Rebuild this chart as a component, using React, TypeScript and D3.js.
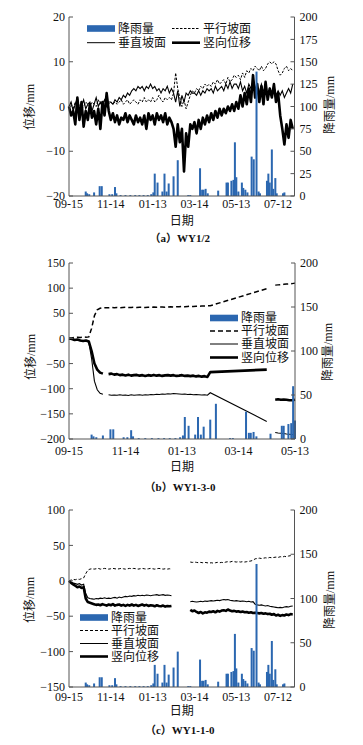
import React from "react";
import * as d3 from "d3";

const W = 363;
const H = 745;
const SERIF = "'Liberation Serif','Times New Roman','Noto Sans CJK SC',serif";
const RAIN_COLOR = "#2b67b0";
const AXIS_COLOR = "#555";

// x tick labels (one every 60 days from 09-15)
const xTickDays = [0, 60, 120, 180, 240, 300];
const xLabelsLong = ["09-15", "11-14", "01-13", "03-14", "05-13", "07-12"];
const xLabelsShort = ["09-15", "11-14", "01-13", "03-14", "05-13"];

// rainfall, shared by the three panels (day after 09-15, mm)
const rainDays = [24, 26, 29, 36, 44, 47, 58, 62, 66, 68, 74, 81, 88, 95, 101, 107, 113, 118, 121, 123, 127, 134, 137, 140, 143, 150, 156, 171, 174, 188, 191, 193, 196, 199, 214, 226, 228, 233, 236, 238, 240, 243, 248, 250, 253, 256, 262, 265, 269, 272, 274, 284, 286, 288, 291, 293, 296, 298, 307, 309];
const rainValues = [5, 3, 2, 4, 11, 11, 2, 2, 10, 3, 1, 1, 1, 1, 1, 1, 1, 2, 4, 25, 15, 5, 25, 5, 14, 22, 40, 1, 1, 31, 7, 7, 8, 3, 6, 15, 15, 17, 18, 60, 21, 5, 15, 9, 7, 4, 44, 41, 139, 5, 3, 17, 25, 15, 52, 8, 20, 3, 3, 4];

// (a) WY1/2, every 3 days
const daysA = d3.range(0, 322, 3);
const parallelA = [
  0, 0.5, -0.5, 1, 0, 0.5, -0.5, 0, 1, 0.5,
  0, 1, 0.5, 0, 1.5, 0.5, 1, 0.5, 1, 0.5,
  1, 0.5, 1, 0.5, 1, 1.5, 0.5, 1, 1.5, 0.5,
  1, 1.5, 1, 0.5, 1.5, 1, 2, 1, 1.5, 1,
  2, 1, 1.5, 2.5, 1.5, 1, 2, 1.5, 2, 1.5,
  3, 7.5, 4, 2, 0, 1.5, -0.5, 1, 2.5, 3.5,
  3, 4, 3.5, 4.5, 4, 5, 4.5, 5, 4.5, 5.5,
  5, 6, 5, 5.5, 6, 5, 6.5, 5.5, 6, 7,
  6.5, 7, 6, 7.5, 6.5, 8, 7.5, 8.5, 8, 9,
  8.5, 8, 9, 8, 8.5, 9.5, 10, 9.5, 10, 9.5,
  8, 7, 7.5, 8.5, 9, 8, 8.5, 8,
];
const perpA = [
  0, 1, -1, 0.5, 2, -1.5, 0, 1.5, -0.5, 0.5,
  1, -1, 0.5, 2, 0, 1, 0.5, 1.5, 0, 1,
  1, 0.5, 1.5, 1, 2, 1.5, 2.5, 2, 3, 2.5,
  3.5, 4, 3.5, 4.5, 4, 4.5, 3.5, 4.5, 4, 5,
  4, 4.5, 3.5, 4, 3, 4, 3.5, 4.5, 3, 4,
  3, 1, 3.5, 0, 2.5, 1, 3, 2.5, 3.5, 3,
  3, 2.5, 3.5, 2.5, 3.5, 3, 4, 3.5, 4, 3,
  4.5, 3.5, 4, 4.5, 3.5, 5, 4, 5.5, 4, 5,
  5, 4, 5.5, 3.5, 4.5, 3, 5, 4, 5.5, 3.5,
  4.5, 3, 5, 3.5, 4, 2.5, 4, 3, 4.5, 2.5,
  3.5, 2.5, 3.5, 2, 3, 4, 3, 5,
];
const vertA = [
  0, -2, -1, -4, 2, -3, 1, -4.5, -1, -3,
  0.5, -2.5, -1, -4, -0.5, -5, 1, -2, 3, -1,
  -3, -1.5, -3.5, -2, -4, -2.5, -3, -1.5, -3.5, -2,
  -3, -4, -2, -3.5, -2.5, -4, -2, -5, -1.5, -3,
  -2, -4, -1.5, -3, -2, -3.5, -1.5, -4, -2.5, -3.5,
  -5, -9, -4, -8, -5, -14.5, -6, -9, -4, -5,
  -3.5, -6, -3, -5, -2.5, -4, -2, -3.5, -1.5, -3,
  -1, -2.5, -0.5, -2, -0.5, -1.5, 0, -1, 0.5, -1,
  1, -0.5, 2.5, 0, 3, 0.5, 4, 1, 7, 2,
  5, 1, 4.5, 0.5, 5.5, 1.5, 4, 2, 5, 1,
  3, -2, -5, -8.5, -4, -7, -3, -5,
];

// (b) WY1-3-0 (null = no reading)
const daysB = [...d3.range(0, 150, 3), 150, 210, 214, 219, 222, 225, 228, 231, 234, 237, 240];
const parallelB = [
  0, 1, 2, 2.5, 2, 3, 2.5, 3, 20, 45,
  57, 60, 61, 61, 61, 61.5, 61, 61.5, 61, 61.5,
  62, 61.5, 61.5, 62, 61.5, 62, 62, 61.5, 62, 62,
  62.5, 62, 62.5, 62.5, 62, 62.5, 63, 62.5, 63, 63,
  63.5, 63, 63.5, 64, 63.5, 64, 64, 64.5, 64.5, 65,
  65, 99, null, 106, 106.5, 107, 107.5, 108, 108.5, 109, 110,
];
const perpB = [
  0, -1.5, -3, -3, -4.5, -5.5, -5, -7, -40, -85,
  -102, -109, -111, null, -112, -113, -112.5, -113, -112, -113,
  -112.5, -113.5, -112, -113, -112.5, -112, -113, -112, -112.5, -111.5,
  -112, -111, -111.5, -110.5, -111, -110, -110.5, -109.5, -110, -110.5,
  -111, -110.5, -111.5, -111, -112, -111.5, -112, -112.5, -112, -113,
  -108, -165, null, -187, -188, -188.5, -189, -190, -190.5, -191, -192,
];
const vertB = [
  0, -1, -3, -2, -4, -5, -4, -6, -25, -50,
  -62, -68, -70, null, -71, -70, -72, -71, -73, -72,
  -73.5, -72, -74, -73, -72.5, -74, -73, -74.5, -73, -74,
  -72.5, -74, -73, -74.5, -73.5, -73, -74, -73, -74.5, -74,
  -73, -74.5, -74, -75, -74, -75.5, -74.5, -76, -75, -76.5,
  -67, -62, null, -122, -121, -122, -121.5, -122, -123, -123, -122,
];

// (c) WY1-1-0
const daysC = [...d3.range(0, 148, 3), 160, ...d3.range(174, 322, 3)];
const parallelC = [
  0, 1, 2, 1.5, 2.5, 2, 3, 4, 10, 15,
  16.5, 17, 16.5, 17, 17.5, 16.5, 17, 17.5, 17, 16.5,
  17, 17.5, 17, 16.5, 17, 17.5, 17, 16.5, 17, 17.5,
  17, 17.5, 17, 16.5, 17, 17.5, 17, 16.5, 17, 17.5,
  17, 16.5, 17, 17.5, 17, 16.5, 17, 16.5, 17, 16.5,
  null,
  26.5, 26, 26.5, 26, 25.5, 26, 25.5, 26, 25.5, 25,
  25.5, 25, 25.5, 26, 25.5, 26, 25.5, 26.5, 27, 26.5,
  27.5, 27, 26.5, 27, 26.5, 27, 26.5, 27, 27.5, 28,
  29, 31, 31.5, 32, 31.5, 32, 32.5, 32, 33, 32.5,
  33, 33.5, 33, 34, 33.5, 34.5, 34, 35, 35.5, 35,
];
const perpC = [
  0, -2, -3, -4, -5, -4, -6, -5, -18, -24,
  -25, -25.5, -26, -25, -25.5, -24.5, -25, -24, -25, -24.5,
  -25, -24, -23.5, -24.5, -23, -24, -23, -22, -22.5, -21.5,
  -22, -21, -21.5, -20.5, -21, -20.5, -21, -20, -20.5, -21,
  -20.5, -20, -19.5, -20.5, -20, -19.5, -20.5, -20, -20.5, -21,
  null,
  -29.5, -29, -29.5, -30, -29.5, -29, -29.5, -28.5, -29, -28.5,
  -28, -28.5, -28, -27.5, -28, -27, -26.5, -27, -26.5, -27.5,
  -28, -28.5, -28, -28.5, -29, -28.5, -29, -29.5, -29, -30,
  -29.5, -33, -34, -34.5, -34, -35, -35.5, -35, -36, -36.5,
  -37, -37.5, -38, -37.5, -38, -37, -36.5, -37, -36, -35.5,
];
const vertC = [
  0, -3, -5, -7, -9, -8, -10, -9, -25, -30,
  -31, -32, -33, -34, -33.5, -34.5, -33, -34, -35, -33.5,
  -34.5, -33, -35, -34, -33.5, -35, -34, -35.5, -34, -35,
  -33.5, -35, -34, -35.5, -34.5, -33.5, -35, -34, -35.5, -34.5,
  -35, -36, -34.5, -35.5, -36, -35, -36.5, -35.5, -36, -35.5,
  null,
  -41, -43, -42, -44, -45.5, -44, -46, -44.5, -45, -43.5,
  -44, -43, -44.5, -42.5, -43.5, -42, -41.5, -42.5, -40.5, -42,
  -43, -42.5, -43.5, -43, -44, -43.5, -44.5, -44, -45, -44.5,
  -45.5, -45, -45.5, -46, -45.5, -46.5, -46, -47, -46.5, -48,
  -47, -49, -48, -49.5, -48.5, -49, -47.5, -48.5, -47, -47.5,
];

const seriesNames = { rain: "降雨量", dashed: "平行坡面", thin: "垂直坡面", thick: "竖向位移" };

const panels = [
  {
    id: "a",
    top: 17, bottom: 196, x0: 69, x1: 294.5, xMax: 323.5,
    leftDomain: [-20, 20], leftTicks: [-20, -10, 0, 10, 20],
    rightTicks: d3.range(0, 201, 25),
    xLabels: xLabelsLong, xLabelDy: 12,
    days: daysA, dashed: parallelA, thin: perpA, thick: vertA,
    dash: "2.5,1.5", dashWidth: 1,
    legend: [
      { kind: "rain", x: 87, y: 28.5 },
      { kind: "dashed", x: 172, y: 28.5 },
      { kind: "thin", x: 87, y: 42.7 },
      { kind: "thick", x: 172, y: 42.7 },
    ],
    dateY: 225, caption: "（a）WY1/2", captionY: 242,
    leftLabelX: 30, leftLabelY: 107, rightLabelX: 330, rightLabelY: 105,
  },
  {
    id: "b",
    top: 263, bottom: 439, x0: 69, x1: 295, xMax: 240,
    leftDomain: [-200, 150], leftTicks: d3.range(-200, 151, 50),
    rightTicks: d3.range(0, 201, 50),
    xLabels: xLabelsShort, xLabelDy: 16,
    days: daysB, dashed: parallelB, thin: perpB, thick: vertB,
    dash: "5,3", dashWidth: 1.5,
    legend: [
      { kind: "rain", x: 210, y: 318 },
      { kind: "dashed", x: 210, y: 331 },
      { kind: "thin", x: 210, y: 344 },
      { kind: "thick", x: 210, y: 357.5 },
    ],
    dateY: 471, caption: "（b）WY1-3-0", captionY: 491,
    leftLabelX: 31, leftLabelY: 357, rightLabelX: 328, rightLabelY: 352,
  },
  {
    id: "c",
    top: 510, bottom: 687, x0: 69, x1: 294.5, xMax: 323.5,
    leftDomain: [-150, 100], leftTicks: d3.range(-150, 101, 50),
    rightTicks: d3.range(0, 201, 50),
    xLabels: xLabelsLong, xLabelDy: 14,
    days: daysC, dashed: parallelC, thin: perpC, thick: vertC,
    dash: "3,2", dashWidth: 1,
    legend: [
      { kind: "rain", x: 80, y: 617.5 },
      { kind: "dashed", x: 80, y: 630.5 },
      { kind: "thin", x: 80, y: 643.5 },
      { kind: "thick", x: 80, y: 656.5 },
    ],
    dateY: 715, caption: "（c）WY1-1-0", captionY: 734,
    leftLabelX: 30, leftLabelY: 600, rightLabelX: 330, rightLabelY: 600,
  },
];

function Swatch({ kind, x, y, p }) {
  if (kind === "rain") {
    return <rect x={x} y={y - 3.3} width={28} height={6.6} fill={RAIN_COLOR} />;
  }
  const sw = kind === "thick" ? 2.6 : kind === "dashed" ? p.dashWidth : 1;
  return (
    <line
      x1={x} x2={x + 28} y1={y} y2={y}
      stroke="#000" strokeWidth={sw}
      strokeDasharray={kind === "dashed" ? p.dash : undefined}
    />
  );
}

function Panel({ p }) {
  const x = d3.scaleLinear().domain([0, p.xMax]).range([p.x0, p.x1]);
  const yL = d3.scaleLinear().domain(p.leftDomain).range([p.bottom, p.top]);
  const yR = d3.scaleLinear().domain([0, 200]).range([p.bottom, p.top]);
  const fmt = d3.format("");

  const line = (vals) =>
    d3.line()
      .defined((d, i) => vals[i] != null)
      .x((d) => x(d))
      .y((d, i) => yL(vals[i]))(p.days);

  const rain = rainDays
    .map((d, i) => ({ d, v: rainValues[i] }))
    .filter((r) => r.d <= p.xMax);

  const cx = (p.x0 + p.x1) / 2;

  return (
    <g>
      {/* displacement lines */}
      <path d={line(p.thick)} fill="none" stroke="#000" strokeWidth={2.6} strokeLinejoin="round" />
      <path d={line(p.thin)} fill="none" stroke="#000" strokeWidth={1.1} />
      <path d={line(p.dashed)} fill="none" stroke="#000" strokeWidth={p.dashWidth} strokeDasharray={p.dash} />

      {/* rainfall bars */}
      {rain.map((r, i) => (
        <rect
          key={i}
          x={x(r.d) - 1}
          y={yR(r.v)}
          width={2}
          height={p.bottom - yR(r.v)}
          fill={RAIN_COLOR}
        />
      ))}

      {/* axes */}
      <line x1={p.x0} x2={p.x0} y1={p.top} y2={p.bottom} stroke={AXIS_COLOR} />
      <line x1={p.x1} x2={p.x1} y1={p.top} y2={p.bottom} stroke={AXIS_COLOR} />
      <line x1={p.x0} x2={p.x1} y1={p.bottom} y2={p.bottom} stroke={AXIS_COLOR} />

      {p.leftTicks.map((t) => (
        <g key={"l" + t}>
          <line x1={p.x0} x2={p.x0 + 4} y1={yL(t)} y2={yL(t)} stroke={AXIS_COLOR} />
          <text x={p.x0 - 4} y={yL(t)} dy="0.35em" textAnchor="end" fontSize={12} fontFamily={SERIF} fill="#111">
            {fmt(t)}
          </text>
        </g>
      ))}
      {p.rightTicks.map((t) => (
        <g key={"r" + t}>
          <line x1={p.x1} x2={p.x1 - 4} y1={yR(t)} y2={yR(t)} stroke={AXIS_COLOR} />
          <text x={p.x1 + 5} y={yR(t)} dy="0.35em" textAnchor="start" fontSize={12} fontFamily={SERIF} fill="#111">
            {t}
          </text>
        </g>
      ))}
      {p.xLabels.map((lab, i) => (
        <text
          key={lab}
          x={x(xTickDays[i])}
          y={p.bottom + p.xLabelDy}
          textAnchor="middle"
          fontSize={12}
          fontFamily={SERIF}
          fill="#111"
        >
          {lab}
        </text>
      ))}

      {/* axis titles */}
      <text
        transform={`translate(${p.leftLabelX},${p.leftLabelY}) rotate(-90)`}
        textAnchor="middle" dy="0.35em" fontSize={12} fontFamily={SERIF} fill="#111"
      >
        位移/mm
      </text>
      <text
        transform={`translate(${p.rightLabelX},${p.rightLabelY}) rotate(-90)`}
        textAnchor="middle" dy="0.35em" fontSize={12} fontFamily={SERIF} fill="#111"
      >
        降雨量/mm
      </text>
      <text x={cx} y={p.dateY} textAnchor="middle" fontSize={12} fontFamily={SERIF} fill="#111">
        日期
      </text>
      <text x={cx - 2} y={p.captionY} textAnchor="middle" fontSize={11} fontWeight="bold" fontFamily={SERIF} fill="#111">
        {p.caption}
      </text>

      {/* legend */}
      {p.legend.map((it) => (
        <g key={it.kind}>
          <Swatch kind={it.kind} x={it.x} y={it.y} p={p} />
          <text x={it.x + 31} y={it.y} dy="0.36em" fontSize={12} fontFamily={SERIF} fill="#111">
            {seriesNames[it.kind]}
          </text>
        </g>
      ))}
    </g>
  );
}

export default function App() {
  return (
    <svg
      width={W}
      height={H}
      viewBox={`0 0 ${W} ${H}`}
      style={{ position: "absolute", left: 0, top: 0, display: "block", background: "#fff" }}
    >
      <rect width={W} height={H} fill="#fff" />
      {panels.map((p) => (
        <Panel key={p.id} p={p} />
      ))}
    </svg>
  );
}
